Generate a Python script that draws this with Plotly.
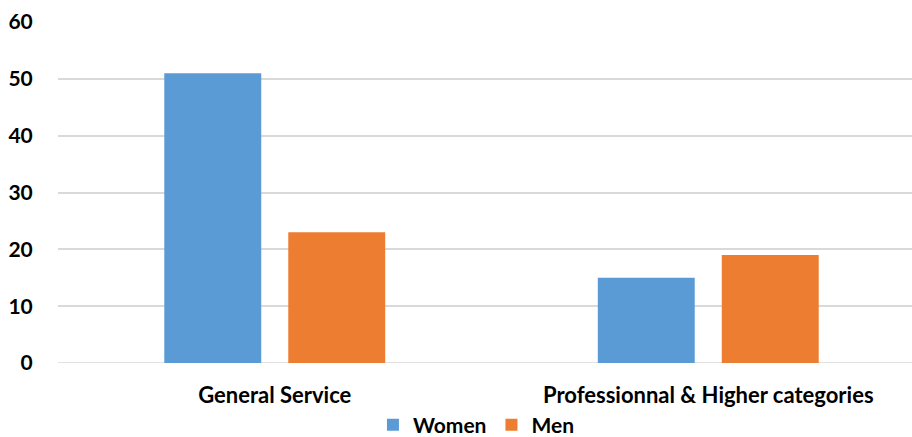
import plotly.graph_objects as go

categories = ["General Service", "Professionnal & Higher categories"]
women = [51, 15]
men = [23, 19]
y_ticks = [0, 10, 20, 30, 40, 50, 60]

FONT = "Lato"
fig = go.Figure()
fig.add_trace(go.Bar(name="Women", x=categories, y=women, marker_color="#5B9BD5",
                     marker_line_width=0))
fig.add_trace(go.Bar(name="Men", x=categories, y=men, marker_color="#ED7D31",
                     marker_line_width=0))

fig.update_layout(
    width=912, height=437,
    margin=dict(l=58, r=0, t=22, b=74, autoexpand=False),
    plot_bgcolor="white", paper_bgcolor="white",
    barmode="group", bargap=0.428, bargroupgap=0.218,
    font=dict(family=FONT, color="black"),
    legend=dict(orientation="h", x=0.49, xanchor="center", y=-0.182, yanchor="middle",
                font=dict(family=FONT, size=21, color="black", weight="bold"),
                itemwidth=30, tracegroupgap=0),
    xaxis=dict(type="category", range=[-0.5, 1.47], showgrid=False, showline=False,
               automargin=False,
               ticks="outside", ticklen=13, tickcolor="rgba(0,0,0,0)",
               tickfont=dict(family=FONT, size=22, weight="bold")),
    yaxis=dict(range=[0, 60], tickvals=y_ticks, showgrid=True, gridcolor="#d9d9d9",
               gridwidth=1.5, zeroline=False, showline=False, automargin=False,
               ticks="outside", ticklen=20, tickcolor="rgba(0,0,0,0)",
               tickfont=dict(family=FONT, size=21, weight="bold")),
)
# zero baseline drawn as a grid-coloured line
fig.add_shape(type="line", xref="paper", yref="y", x0=0, x1=1, y0=0, y1=0,
              line=dict(color="#d9d9d9", width=1.5), layer="below")

fig.write_html("out.html")
